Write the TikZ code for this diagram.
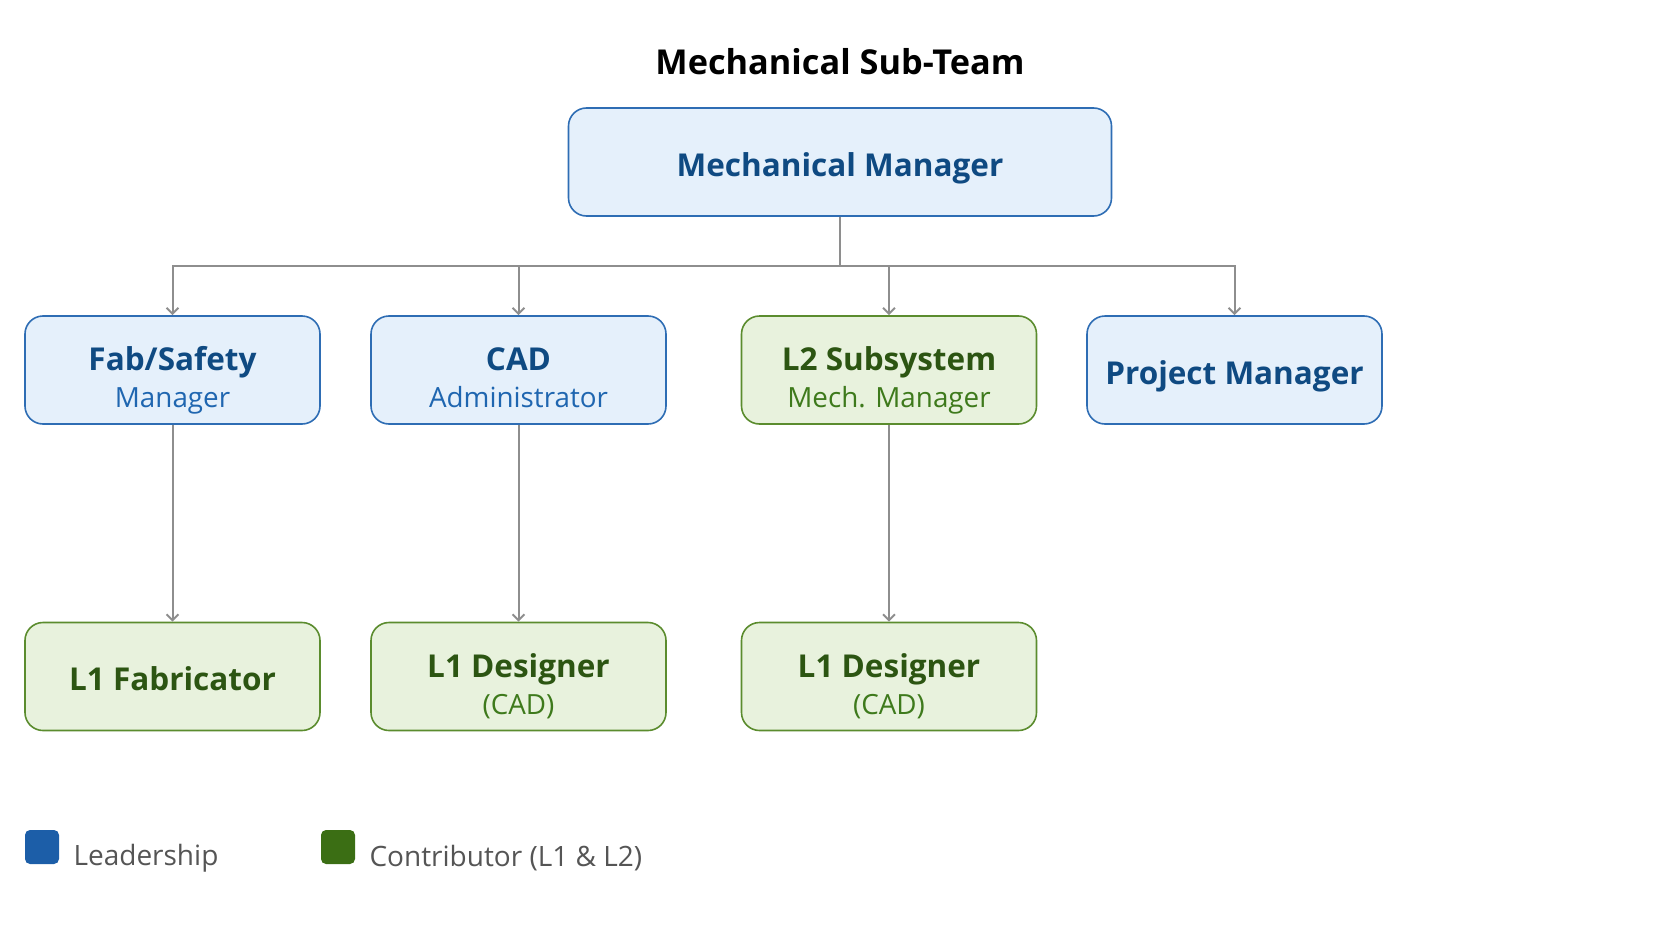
\documentclass[tikz,border=0pt]{standalone}
\usepackage{fontspec}
\setmainfont{Open Sans}
\usetikzlibrary{arrows.meta,positioning}

\definecolor{leadfill}{HTML}{E5F0FB}
\definecolor{leaddraw}{HTML}{2E6DB4}
\definecolor{leadtext}{HTML}{0F4A82}
\definecolor{leadsub}{HTML}{1F66B0}
\definecolor{contfill}{HTML}{E8F2DD}
\definecolor{contdraw}{HTML}{5B8C2E}
\definecolor{conttext}{HTML}{2C5512}
\definecolor{contsub}{HTML}{3E7A1C}
\definecolor{linkgray}{HTML}{8E8E8E}
\definecolor{legblue}{HTML}{1C5EA8}
\definecolor{leggreen}{HTML}{3B6E14}
\definecolor{legtext}{HTML}{555555}

\newcommand{\rsub}[1]{{\fontsize{27.8}{37}\selectfont\mdseries #1}}

\begin{document}
\begin{tikzpicture}[x=1pt,y=-1pt,>={Straight Barb[length=6pt,width=12pt]},
    role node/.style={rectangle,rounded corners=18pt,line width=1.6pt,minimum width=295pt,minimum height=108pt,inner sep=0pt,align=center,font=\fontsize{31.5}{37}\selectfont\bfseries,
        execute at begin node=\rule[-10pt]{0pt}{48.6pt}},
    two line/.style={execute at begin node=\rule{0pt}{85pt},execute at end node=\rule[-10pt]{0pt}{0pt}},
    lead node/.style={role node,fill=leadfill,draw=leaddraw,text=leadtext},
    cont node/.style={role node,fill=contfill,draw=contdraw,text=conttext},
    link/.style={draw=linkgray,line width=2pt},
    key text/.style={anchor=west,text=legtext,font=\fontsize{28}{32}\selectfont}]

    \useasboundingbox (0,0) rectangle (1680,939);

    \node (title) at (840,62) {\fontsize{34.3}{40}\selectfont\bfseries Mechanical Sub-Team};

    \node[lead node, minimum width=543pt] (mm) at (840,162) {Mechanical Manager};

    \node[lead node, two line] (fab) at (172.5,370) {Fab/Safety\\\rsub{\color{leadsub}Manager}};
    \node[lead node, two line] (cad) [right of = fab, node distance=346pt] {CAD\\\rsub{\color{leadsub}Administrator}};
    \node[cont node, two line] (l2) [right of = cad, node distance=370.5pt] {L2 Subsystem\\\rsub{\color{contsub}Mech. Manager}};
    \node[lead node] (pm) [right of = l2, node distance=345.5pt] {Project Manager};

    \node[cont node] (fab1) [below of = fab, node distance=306.5pt] {L1 Fabricator};
    \node[cont node, two line] (cad1) [below of = cad, node distance=306.5pt] {L1 Designer\\\rsub{\color{contsub}(CAD)}};
    \node[cont node, two line] (l21) [below of = l2, node distance=306.5pt] {L1 Designer\\\rsub{\color{contsub}(CAD)}};

    \coordinate (bar) at (840,266);

    \foreach \n in {fab,cad,l2,pm}
        \draw[link,->] (mm.south) -- (bar) -| (\n.north);

    \draw[link,->] (fab.south) -- (fab1.north);
    \draw[link,->] (cad.south) -- (cad1.north);
    \draw[link,->] (l2.south) -- (l21.north);

    % legend
    \node[fill=legblue, rounded corners=5pt, minimum size=34pt, inner sep=0pt] (leadkey) at (42,847) {};
    \node[key text] (leadlab) at (70,858) {Leadership};
    \node[fill=leggreen, rounded corners=5pt, minimum size=34pt, inner sep=0pt] (contkey) at (338,847) {};
    \node[key text] (contlab) at (366,858) {Contributor (L1 \& L2)};
\end{tikzpicture}
\end{document}
